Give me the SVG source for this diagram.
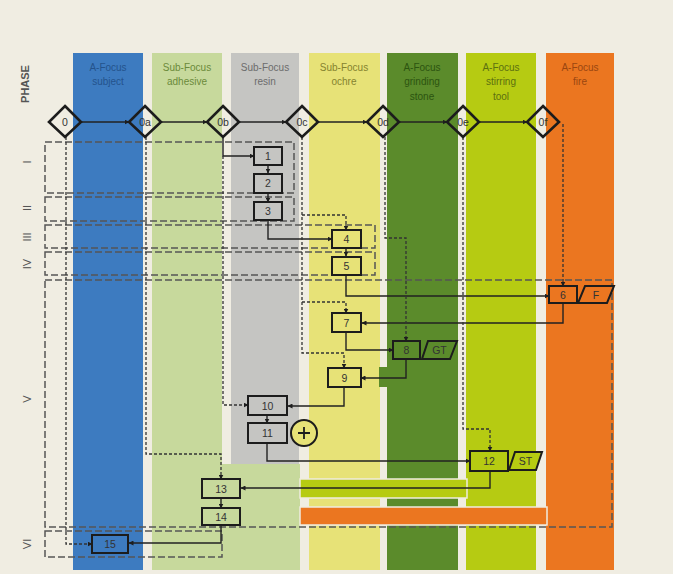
<svg xmlns="http://www.w3.org/2000/svg" width="673" height="574" viewBox="0 0 673 574">
<defs>
<marker id="ah" viewBox="0 0 10 10" refX="9" refY="5" markerWidth="5" markerHeight="5" orient="auto" markerUnits="userSpaceOnUse">
<path d="M0,0 L10,5 L0,10 z" fill="#1e1e1e"/>
</marker>
<style>
.hdr{font-family:"Liberation Sans",Arial,sans-serif;font-size:10px;text-anchor:middle}
.num{font-family:"Liberation Sans",Arial,sans-serif;font-size:10.5px;text-anchor:middle;fill:#333}
.ph{font-family:"Liberation Sans",Arial,sans-serif;font-size:11px;text-anchor:middle;fill:#555}
.node{stroke:#1c1c1c;stroke-width:2}
.dia{fill:none;stroke:#1c1c1c;stroke-width:2.6}
.solid{fill:none;stroke:#222;stroke-width:1.4}
.dot{fill:none;stroke:#333;stroke-width:1.3;stroke-dasharray:3 2}
.phase{fill:none;stroke:#555;stroke-width:1.5;stroke-dasharray:7 3}
.band{stroke:#efece0;stroke-width:1.5}
</style>
</defs>
<rect width="673" height="574" fill="#f0ede2"/>

<g id="lanes">
<rect x="73" y="53" width="70" height="517" fill="#3d7bc0"/>
<rect x="152" y="53" width="70" height="517" fill="#c7d99c"/>
<rect x="152" y="464" width="148" height="106" fill="#c7d99c"/>
<rect x="231" y="53" width="68" height="411" fill="#c5c5c2"/>
<rect x="309" y="53" width="71" height="517" fill="#e7e277"/>
<rect x="387" y="53" width="71" height="517" fill="#5b8b2b"/>
<rect x="379" y="367" width="10" height="20" fill="#5b8b2b"/>
<rect x="466" y="53" width="70" height="517" fill="#b6cb12"/>
<rect x="546" y="53" width="68" height="517" fill="#eb7620"/>
<rect class="band" x="300" y="479" width="167" height="19" fill="#b6cb12"/>
<rect class="band" x="300" y="507" width="247" height="18" fill="#eb7620"/>
</g>

<g id="headers">
<text class="hdr" fill="#24538c"><tspan x="108" y="71">A-Focus</tspan><tspan x="108" y="85">subject</tspan></text>
<text class="hdr" fill="#6b8a3a"><tspan x="187" y="71">Sub-Focus</tspan><tspan x="187" y="85">adhesive</tspan></text>
<text class="hdr" fill="#6c6c6c"><tspan x="265" y="71">Sub-Focus</tspan><tspan x="265" y="85">resin</tspan></text>
<text class="hdr" fill="#85832f"><tspan x="344" y="71">Sub-Focus</tspan><tspan x="344" y="85">ochre</tspan></text>
<text class="hdr" fill="#2c5410"><tspan x="422" y="71">A-Focus</tspan><tspan x="422" y="85">grinding</tspan><tspan x="422" y="100">stone</tspan></text>
<text class="hdr" fill="#5c7010"><tspan x="501" y="71">A-Focus</tspan><tspan x="501" y="85">stirring</tspan><tspan x="501" y="100">tool</tspan></text>
<text class="hdr" fill="#9a4610"><tspan x="580" y="71">A-Focus</tspan><tspan x="580" y="85">fire</tspan></text>
</g>

<g id="phase-labels">
<text class="ph" font-weight="bold" font-size="9.5" transform="translate(29,84) rotate(-90)">PHASE</text>
<text class="ph" transform="translate(31,162) rotate(-90)">I</text>
<text class="ph" transform="translate(31,208) rotate(-90)">II</text>
<text class="ph" transform="translate(31,237) rotate(-90)">III</text>
<text class="ph" transform="translate(31,264) rotate(-90)">IV</text>
<text class="ph" transform="translate(31,399) rotate(-90)">V</text>
<text class="ph" transform="translate(31,544) rotate(-90)">VI</text>
</g>

<g id="phases">
<rect class="phase" x="45" y="142" width="249" height="51"/>
<rect class="phase" x="45" y="197" width="249" height="24"/>
<rect class="phase" x="45" y="225" width="330" height="23"/>
<rect class="phase" x="45" y="252" width="330" height="23"/>
<rect class="phase" x="45" y="280" width="567" height="247"/>
<rect class="phase" x="45" y="531" width="177" height="26"/>
</g>

<g id="connectors">
<path class="solid" marker-end="url(#ah)" d="M82,122 H129"/>
<path class="solid" marker-end="url(#ah)" d="M161,122 H207"/>
<path class="solid" marker-end="url(#ah)" d="M239,122 H286"/>
<path class="solid" marker-end="url(#ah)" d="M318,122 H367"/>
<path class="solid" marker-end="url(#ah)" d="M399,122 H447"/>
<path class="solid" marker-end="url(#ah)" d="M479,122 H527"/>
<path class="solid" marker-end="url(#ah)" d="M223,137 V156 H254"/>
<path class="solid" marker-end="url(#ah)" d="M268,165 V173"/>
<path class="solid" marker-end="url(#ah)" d="M268,193 V202"/>
<path class="solid" marker-end="url(#ah)" d="M268,220 V239 H332"/>
<path class="solid" marker-end="url(#ah)" d="M346,248 V256"/>
<path class="solid" marker-end="url(#ah)" d="M346,275 V296 H549"/>
<path class="solid" marker-end="url(#ah)" d="M563,303 V323 H362"/>
<path class="solid" marker-end="url(#ah)" d="M346,332 V350 H393"/>
<path class="solid" marker-end="url(#ah)" d="M406,359 V378 H361"/>
<path class="solid" marker-end="url(#ah)" d="M344,387 V406 H288"/>
<path class="solid" marker-end="url(#ah)" d="M267,415 V423"/>
<path class="solid" marker-end="url(#ah)" d="M267,443 V461 H470"/>
<path class="solid" marker-end="url(#ah)" d="M490,471 V488 H241"/>
<path class="solid" marker-end="url(#ah)" d="M221,498 V508"/>
<path class="solid" marker-end="url(#ah)" d="M221,525 V543 H129"/>
<path class="dot" marker-end="url(#ah)" d="M66,137 V544 H92"/>
<path class="dot" marker-end="url(#ah)" d="M146,137 V454 H221 V479"/>
<path class="dot" marker-end="url(#ah)" d="M223,156 V405 H248"/>
<path class="dot" marker-end="url(#ah)" d="M302,137 V353 H344 V368"/>
<path class="dot" marker-end="url(#ah)" d="M302,215 H346 V230"/>
<path class="dot" marker-end="url(#ah)" d="M302,302 H346 V313"/>
<path class="dot" marker-end="url(#ah)" d="M385,137 V238 H406 V341"/>
<path class="dot" marker-end="url(#ah)" d="M463,137 V429 H490 V451"/>
<path class="dot" marker-end="url(#ah)" d="M563,124 V286"/>
</g>

<g id="d0"><path class="dia" d="M65,106 L81,122 L65,137 L49,122 Z"/><text class="num" x="65" y="126">0</text></g>
<g id="d0a"><path class="dia" d="M145,106 L161,122 L145,137 L129,122 Z"/><text class="num" x="145" y="126">0a</text></g>
<g id="d0b"><path class="dia" d="M223,106 L239,122 L223,137 L207,122 Z"/><text class="num" x="223" y="126">0b</text></g>
<g id="d0c"><path class="dia" d="M302,106 L318,122 L302,137 L286,122 Z"/><text class="num" x="302" y="126">0c</text></g>
<g id="d0d"><path class="dia" d="M383,106 L399,122 L383,137 L367,122 Z"/><text class="num" x="383" y="126">0d</text></g>
<g id="d0e"><path class="dia" d="M463,106 L479,122 L463,137 L447,122 Z"/><text class="num" x="463" y="126">0e</text></g>
<g id="d0f"><path class="dia" d="M543,106 L559,122 L543,137 L527,122 Z"/><text class="num" x="543" y="126">0f</text></g>

<g id="n1"><rect class="node" x="254" y="147" width="28" height="18" fill="#c5c5c2"/><text class="num" x="268" y="160">1</text></g>
<g id="n2"><rect class="node" x="254" y="174" width="28" height="19" fill="#c5c5c2"/><text class="num" x="268" y="187">2</text></g>
<g id="n3"><rect class="node" x="254" y="202" width="28" height="18" fill="#c5c5c2"/><text class="num" x="268" y="215">3</text></g>
<g id="n4"><rect class="node" x="332" y="230" width="29" height="18" fill="#e7e277"/><text class="num" x="346.5" y="243">4</text></g>
<g id="n5"><rect class="node" x="332" y="257" width="29" height="18" fill="#e7e277"/><text class="num" x="346.5" y="270">5</text></g>
<g id="n6"><rect class="node" x="549" y="286" width="28" height="17" fill="#eb7620"/><text class="num" x="563" y="298.5">6</text></g>
<g id="nF"><path class="node" d="M585,286 L614,286 L607,303 L578,303 Z" fill="#eb7620"/><text class="num" x="596" y="298.5">F</text></g>
<g id="n7"><rect class="node" x="332" y="313" width="29" height="19" fill="#e7e277"/><text class="num" x="346.5" y="326.5">7</text></g>
<g id="n8"><rect class="node" x="393" y="341" width="27" height="18" fill="#5b8b2b" stroke="#1a2e0c"/><text class="num" x="406.5" y="354" fill="#1d3a0c">8</text></g>
<g id="nGT"><path class="node" d="M428,341 L457,341 L450,359 L422,359 Z" fill="#5b8b2b" stroke="#1a2e0c"/><text class="num" x="439.5" y="354" fill="#1d3a0c">GT</text></g>
<g id="n9"><rect class="node" x="328" y="368" width="33" height="19" fill="#e7e277"/><text class="num" x="344.5" y="381.5">9</text></g>
<g id="n10"><rect class="node" x="248" y="396" width="39" height="19" fill="#c5c5c2"/><text class="num" x="267.5" y="409.5">10</text></g>
<g id="n11"><rect class="node" x="248" y="423" width="39" height="20" fill="#c5c5c2"/><text class="num" x="267.5" y="437">11</text></g>
<g id="plus"><circle cx="304" cy="433" r="13" fill="#e7e277" stroke="#1c1c1c" stroke-width="2"/><path d="M298,433 H310 M304,427 V439" stroke="#1c1c1c" stroke-width="1.8"/></g>
<g id="n12"><rect class="node" x="470" y="451" width="38" height="20" fill="#b6cb12" stroke-width="2.5"/><text class="num" x="489" y="465">12</text></g>
<g id="nST"><path class="node" d="M515,452 L542,452 L536,470 L509,470 Z" fill="#b6cb12"/><text class="num" x="525.5" y="465">ST</text></g>
<g id="n13"><rect class="node" x="202" y="479" width="38" height="19" fill="#c7d99c"/><text class="num" x="221" y="492.5">13</text></g>
<g id="n14"><rect class="node" x="202" y="508" width="38" height="17" fill="#c7d99c"/><text class="num" x="221" y="520.5">14</text></g>
<g id="n15"><rect class="node" x="92" y="535" width="36" height="18" fill="#3d7bc0" stroke="#132642"/><text class="num" x="110" y="548" fill="#17304f">15</text></g>
</svg>
